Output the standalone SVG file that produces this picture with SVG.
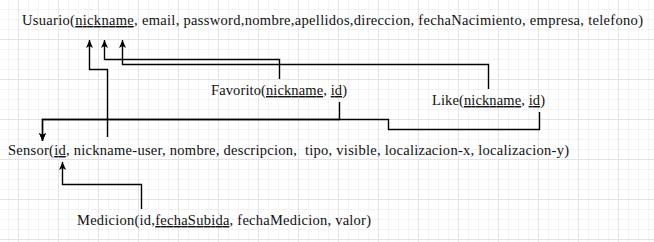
<svg xmlns="http://www.w3.org/2000/svg" width="654" height="242" viewBox="0 0 654 242">
  <defs>
    <pattern id="minor" x="8" y="9" width="10" height="10" patternUnits="userSpaceOnUse">
      <path d="M0.5,0 V10 M0,0.5 H10" fill="none" stroke="#f3f3f3" stroke-width="1"/>
    </pattern>
    <pattern id="major" x="18" y="39" width="40" height="40" patternUnits="userSpaceOnUse">
      <path d="M0.5,0 V40 M0,0.5 H40" fill="none" stroke="#e4e4e4" stroke-width="1"/>
    </pattern>
    <marker id="arrow" markerUnits="userSpaceOnUse" markerWidth="10" markerHeight="10" viewBox="0 0 10 10" refX="8" refY="5" orient="auto">
      <path d="M0,1.5 L8,5 L0,8.5 L2,5 Z" fill="#000"/>
    </marker>
    <style>
      .t { font-family: "Liberation Serif", "Times New Roman", serif; font-size: 14.5px; fill: #111; }
      .u { text-decoration: underline; }
      .c { fill: none; stroke: #000; stroke-width: 1.4; }
    </style>
  </defs>

  <!-- background grid -->
  <rect width="654" height="242" fill="#fff"/>
  <rect width="654" height="242" fill="url(#minor)"/>
  <rect width="654" height="242" fill="url(#major)"/>

  <!-- connectors -->
  <g id="connectors">
    <path class="c" d="M107.5,137 V69.5 H89.5 V40" marker-end="url(#arrow)"/>
    <path class="c" d="M279.5,79 V59.5 H104.5 V40" marker-end="url(#arrow)"/>
    <path class="c" d="M488.5,89 V64.5 H122.5 V40" marker-end="url(#arrow)"/>
    <path class="c" d="M339.5,102 V119.5 H42.5 V141" marker-end="url(#arrow)"/>
    <path class="c" d="M539.5,112 V129.5 H388.5 V119.5 H42.5 V141" marker-end="url(#arrow)"/>
    <path class="c" d="M141.5,209 V184.5 H62.5 V162" marker-end="url(#arrow)"/>
  </g>

  <!-- tables -->
  <g id="usuario">
    <text class="t" x="22" y="25" textLength="621" lengthAdjust="spacing">Usuario(<tspan class="u">nickname</tspan>, email, password,nombre,apellidos,direccion, fechaNacimiento, empresa, telefono)</text>
  </g>
  <g id="favorito">
    <text class="t" x="211" y="95" textLength="136" lengthAdjust="spacing">Favorito(<tspan class="u">nickname</tspan>, <tspan class="u">id</tspan>)</text>
  </g>
  <g id="like">
    <text class="t" x="432" y="105" textLength="113" lengthAdjust="spacing">Like(<tspan class="u">nickname</tspan>, <tspan class="u">id</tspan>)</text>
  </g>
  <g id="sensor">
    <text class="t" x="8" y="155" textLength="561" lengthAdjust="spacing" xml:space="preserve">Sensor(<tspan class="u">id</tspan>, nickname-user, nombre, descripcion,  tipo, visible, localizacion-x, localizacion-y)</text>
  </g>
  <g id="medicion">
    <text class="t" x="77" y="225" textLength="294" lengthAdjust="spacing">Medicion(id,<tspan class="u">fechaSubida</tspan>, fechaMedicion, valor)</text>
  </g>
</svg>
